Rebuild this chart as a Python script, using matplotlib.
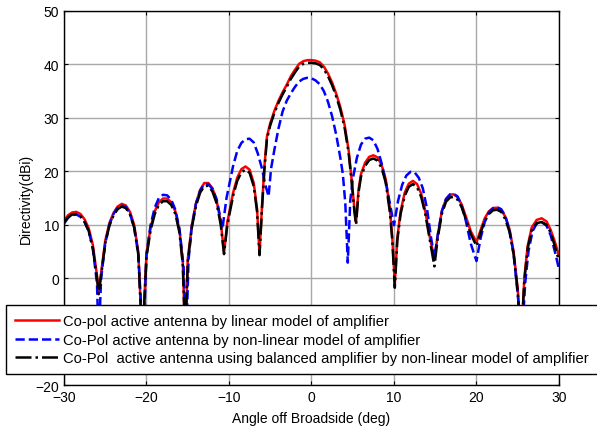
import matplotlib
matplotlib.use('Agg')
import matplotlib.pyplot as plt

plt.rcParams['font.family'] = ['Liberation Sans', 'DejaVu Sans']

# Angle (deg) and directivity (dBi), one pair of lists per curve
x_lin = [-30, -29.5, -29, -28.5, -28, -27.5, -27, -26.5, -26, -25.8, -25.5, -25, -24.5, -24, -23.5, -23,
         -22.5, -22, -21.5, -21, -20.5, -20, -19.5, -19, -18.5, -18, -17.5, -17, -16.5, -16, -15.6, -15.3,
         -15, -14.5, -14, -13.5, -13, -12.5, -12, -11.5, -11, -10.6, -10.2, -9.5, -9, -8.5, -8, -7.5, -7,
         -6.6, -6.3, -6, -5.7, -5.4, -5, -4.5, -4, -3.5, -3, -2.5, -2, -1.5, -1, -0.5, 0, 0.5, 1, 1.5, 2,
         2.5, 3, 3.5, 4, 4.5, 4.9, 5.2, 5.4, 5.7, 6, 6.5, 7, 7.5, 8, 8.5, 9, 9.5, 9.8, 10.1, 10.4, 10.8,
         11.3, 11.8, 12.3, 12.8, 13.3, 13.8, 14.3, 14.9, 15.3, 15.8, 16.3, 16.8, 17.2, 17.7, 18.2, 18.7,
         19.3, 20, 20.5, 21, 21.5, 22, 22.5, 23, 23.5, 24, 24.5, 25, 25.4, 25.8, 26.2, 26.7, 27.3, 27.9,
         28.5, 29, 29.5, 30]
d_lin = [10.7, 11.8, 12.3, 12.4, 12.0, 11.0, 9.3, 6.2, 0.5, -2.5, 1.0, 7.0, 10.3, 12.2, 13.4, 13.9,
         13.6, 12.4, 10.0, 5.0, -12, 4.5, 9.5, 12.5, 14.2, 14.9, 14.9, 14.2, 12.5, 9.0, 3.0, -12,
         3.5, 10.0, 14.0, 16.5, 17.8, 17.8, 16.8, 14.5, 10.5, 4.8, 10.5, 16.0, 18.8, 20.4, 20.9, 20.3, 17.8,
         13.0, 4.5, 13.5, 21.0, 26.5, 29.0, 31.3, 33.2, 34.8, 36.2, 37.8, 39.0, 40.1, 40.6, 40.8, 40.8, 40.7, 40.4, 39.6, 38.3,
         36.6, 34.5, 32.0, 28.8, 24.0, 18.0, 13.0, 10.4, 16.5, 19.5, 21.6, 22.7, 23.0, 22.6, 21.2, 18.5, 13.0, 7.5, -1.1, 7.5, 12.5,
         16.0, 17.7, 18.2, 17.6, 15.8, 12.5, 8.0, 3.6, 8.0, 12.5, 14.8, 15.6, 15.7, 15.2, 13.8, 11.6,
         8.8, 6.7, 9.0, 11.2, 12.5, 13.1, 13.2, 12.8, 11.5, 9.2, 5.0, -2.0, -12, 0.0, 6.0, 9.5, 10.9, 11.2,
         10.6, 9.0, 6.8, 4.2]

x_nonlin = [-30, -29.5, -29, -28.5, -28, -27.5, -27, -26.5, -26, -25.8, -25.5, -25, -24.5, -24, -23.5, -23,
            -22.5, -22, -21.5, -21, -20.4, -20, -19.5, -19, -18.5, -18, -17.5, -17, -16.5, -16, -15.5, -15.2,
            -14.9, -14.5, -14, -13.5, -13, -12.5, -12, -11.5, -11.2, -10.8, -10.3, -9.9, -9.5, -9, -8.5, -8,
            -7.5, -7, -6.5, -6, -5.6, -5.2, -4.9, -4.5, -4, -3.5, -3, -2.5, -2, -1.5, -1, -0.5, 0, 0.5, 1,
            1.5, 2, 2.5, 3, 3.5, 3.8, 4.1, 4.4, 4.7, 5, 5.5, 6, 6.5, 7, 7.5, 8, 8.5, 9, 9.5, 10, 10.5, 11,
            11.5, 12, 12.5, 13, 13.5, 14, 14.5, 14.9, 15.3, 15.8, 16.3, 16.8, 17.2, 17.7, 18.2, 18.7, 19.3,
            20, 20.5, 21, 21.5, 22, 22.5, 23, 23.5, 24, 24.5, 25, 25.5, 25.9, 26.3, 26.8, 27.3, 27.9, 28.5,
            29, 29.5, 30]
d_nonlin = [10.2, 11.3, 11.8, 11.9, 11.5, 10.5, 8.8, 5.5, -1.0, -12, 0.0, 6.5, 10.0, 12.0, 13.2, 13.6,
            13.3, 12.0, 9.6, 4.5, -12, 4.5, 10.0, 13.2, 15.0, 15.6, 15.5, 14.7, 12.8, 9.2, 2.0, -12,
            3.5, 9.8, 14.0, 16.4, 17.6, 17.6, 16.7, 14.8, 12.5, 9.2, 15.0, 18.0, 21.0, 23.8, 25.3, 26.0,
            26.1, 25.4, 23.3, 20.5, 17.5, 15.3, 20.5, 24.0, 28.0, 31.2, 33.2, 34.6, 35.8, 36.8, 37.3, 37.5, 37.4, 37.0, 36.3,
            35.0, 33.0, 30.3, 26.8, 22.5, 19.5, 14.0, 2.9, 14.5, 18.5, 22.5, 25.0, 26.1, 26.3, 25.8, 24.2, 21.5, 18.0, 14.0, 9.9, 14.5, 17.5,
            19.2, 19.9, 19.8, 18.8, 16.8, 13.0, 7.5, 3.8, 8.0, 12.5, 14.8, 15.7, 15.8, 15.3, 13.6, 10.8, 6.5,
            3.2, 7.5, 10.5, 12.3, 13.1, 13.3, 12.9, 11.6, 9.0, 4.5, -3.0, -12, -1.0, 5.0, 8.8, 10.2, 10.5, 9.8,
            8.0, 5.0, 1.7]

x_bal = x_lin
d_bal = [10.4, 11.4, 11.9, 12.0, 11.6, 10.5, 8.8, 5.5, 0.0, -3.0, 0.5, 6.5, 9.8, 11.7, 12.9, 13.4,
         13.1, 11.9, 9.5, 4.5, -12, 4.0, 9.0, 12.0, 13.7, 14.4, 14.4, 13.7, 12.0, 8.5, 2.5, -12,
         3.0, 9.5, 13.5, 16.0, 17.2, 17.3, 16.2, 14.0, 10.0, 4.5, 10.0, 15.4, 18.2, 19.8, 20.3, 19.7, 17.2,
         12.5, 4.3, 13.0, 20.5, 26.0, 28.6, 30.9, 32.8, 34.4, 35.8, 37.3, 38.5, 39.6, 40.1, 40.3, 40.3, 40.2, 39.9, 39.1, 37.8,
         36.1, 34.0, 31.5, 28.3, 23.5, 17.5, 12.5, 10.0, 16.0, 19.0, 21.0, 22.1, 22.4, 22.0, 20.6, 17.9, 12.4, 7.0, -1.8, 7.0, 12.0,
         15.4, 17.1, 17.6, 17.0, 15.2, 12.0, 7.5, 2.2, 7.5, 12.0, 14.3, 15.1, 15.2, 14.7, 13.3, 11.1,
         8.3, 6.0, 8.5, 10.7, 12.0, 12.7, 12.8, 12.4, 11.0, 8.7, 4.5, -2.5, -12, -0.5, 5.5, 9.0, 10.3, 10.5,
         10.0, 8.5, 6.0, 3.2]

labels = ['Co-pol active antenna by linear model of amplifier',
          'Co-Pol active antenna by non-linear model of amplifier',
          'Co-Pol  active antenna using balanced amplifier by non-linear model of amplifier']

fig = plt.figure(figsize=(5.97, 4.27), dpi=100)
ax = fig.add_axes([0.1072, 0.0960, 0.8291, 0.8759])

ax.plot(x_lin, d_lin, color='red', linestyle='-', linewidth=1.8, label=labels[0])
ax.plot(x_nonlin, d_nonlin, color='blue', linestyle='--', linewidth=1.8, label=labels[1])
ax.plot(x_bal, d_bal, color='black', linestyle='-.', linewidth=1.8, label=labels[2])

ax.set_xlim(-30, 30)
ax.set_ylim(-20, 50)
ax.set_xticks(range(-30, 31, 10))
ax.set_yticks(range(-20, 51, 10))
ax.grid(True, color='#a8a8a8', linewidth=1.0)
ax.set_axisbelow(True)
ax.tick_params(direction='in', top=True, right=True, labelsize=10, length=3)
for sp in ax.spines.values():
    sp.set_linewidth(1.0)

ax.set_xlabel('Angle off Broadside (deg)', fontsize=10, labelpad=5)
ax.set_ylabel('Directivity(dBi)', fontsize=10, labelpad=2)

# legend sits over the bottom of the plot and runs off the right edge
leg = ax.legend(loc='lower left', bbox_to_anchor=(0.01, 0.1218, 1.05, 0.15),
                bbox_transform=fig.transFigure, mode='expand', borderaxespad=0,
                fontsize=10.6, fancybox=False, framealpha=1, edgecolor='black',
                handlelength=3.0, handletextpad=0.3, labelspacing=0.3, borderpad=0.6)
leg.get_frame().set_linewidth(1.0)

plt.savefig('out.png', dpi=100)
